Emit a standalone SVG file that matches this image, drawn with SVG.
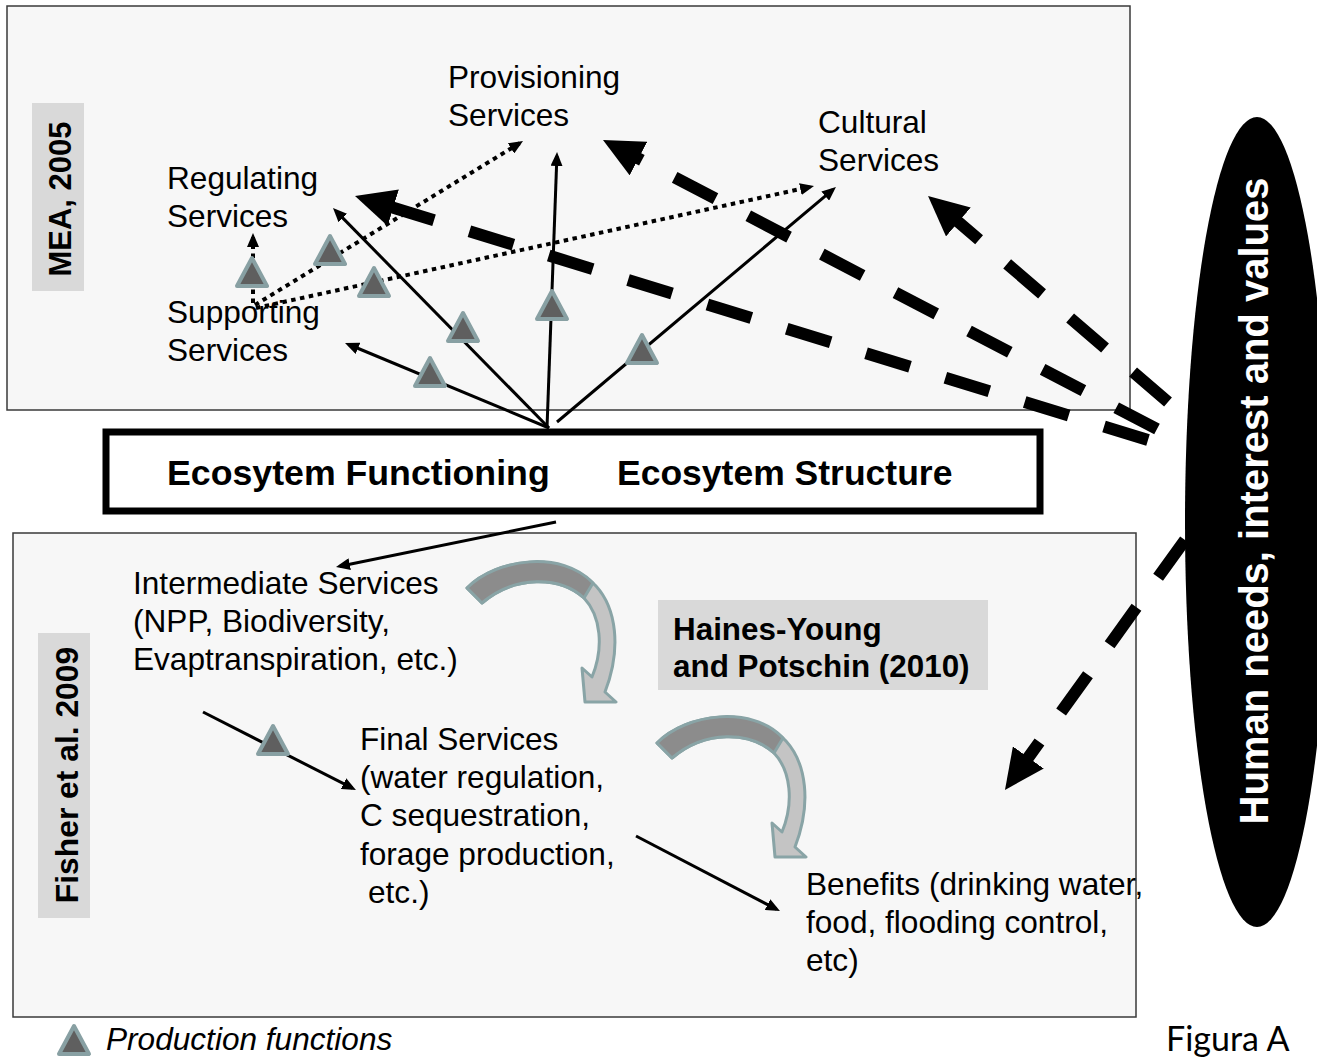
<svg xmlns="http://www.w3.org/2000/svg" xmlns:xlink="http://www.w3.org/1999/xlink" width="1317" height="1059" viewBox="0 0 1317 1059">
<style>
  .panel { fill: #f7f7f7; stroke: #3a3a3a; stroke-width: 1.5; }
  .label-box { fill: #d9d9d9; }
  .t { font-family: "Liberation Sans", Arial, sans-serif; font-size: 31.6px; fill: #000; }
  .b { font-family: "Liberation Sans", Arial, sans-serif; font-weight: bold; fill: #000; }
  .solid { fill: none; stroke: #000; stroke-width: 3; }
  .dot { fill: none; stroke: #000; stroke-width: 4; stroke-dasharray: 4.5 4.5; }
  .dash { fill: none; stroke: #000; stroke-width: 12; stroke-dasharray: 46 37; }
  .tri { fill: #5f5f5f; stroke: #88a0a3; stroke-width: 4; stroke-linejoin: round; }
  .curve-light { fill: #c4c4c4; stroke: #89a4a6; stroke-width: 3; stroke-linejoin: round; }
  .curve-dark { fill: #8c8c8c; stroke: #89a4a6; stroke-width: 3; stroke-linejoin: round; }
</style>
<defs>
  <marker id="ah" markerUnits="userSpaceOnUse" markerWidth="14" markerHeight="12" viewBox="0 0 14 12" refX="10" refY="6" orient="auto">
    <path d="M0,0 L14,6 L0,12 Z" fill="#000"/>
  </marker>
  <marker id="big" markerUnits="userSpaceOnUse" markerWidth="40" markerHeight="38" viewBox="0 0 40 38" refX="10" refY="19" orient="auto">
    <path d="M0,0 L40,19 L0,38 Z" fill="#000"/>
  </marker>
  <path id="tri" class="tri" d="M0,-14 L15,14 L-15,14 Z"/>
  <g id="curvedArrow">
    <path class="curve-light" d="M467,588 C497,558 562,550 596,586 C616,608 622,648 605,692 L616,702 L585,702 L582,668 L592,677 C604,648 601,616 584,598 C560,576 515,575 482,603 Z"/>
    <path class="curve-dark" d="M467,588 C497,558 562,550 593,583 L584,598 C560,576 515,575 482,603 Z"/>
  </g>
</defs>

<rect width="1317" height="1059" fill="#fff"/>

<!-- panels -->
<g id="mea-panel">
  <rect class="panel" x="7" y="6" width="1123" height="404"/>
  <rect class="label-box" x="32" y="103" width="52" height="188"/>
  <text class="b" font-size="31" transform="translate(71,199) rotate(-90)" text-anchor="middle">MEA, 2005</text>
</g>
<g id="fisher-panel">
  <rect class="panel" x="13" y="533" width="1123" height="484"/>
  <rect class="label-box" x="38" y="633" width="52" height="285"/>
  <text class="b" font-size="31.8" transform="translate(78,775) rotate(-90)" text-anchor="middle">Fisher et al. 2009</text>
</g>

<g id="haines-young">
  <rect class="label-box" x="658" y="600" width="330" height="90"/>
  <text class="b" font-size="31.4" x="673" y="640">Haines-Young</text>
  <text class="b" font-size="31.4" x="673" y="677">and Potschin (2010)</text>
</g>

<g id="ecosystem">
  <rect x="106" y="432" width="934" height="79" fill="#fff" stroke="#000" stroke-width="7"/>
  <text class="b" font-size="35.7" x="167" y="485">Ecosytem Functioning</text>
  <text class="b" font-size="35.5" x="617" y="485">Ecosytem Structure</text>
</g>

<!-- service nodes -->
<g id="provisioning"><text class="t" x="448" y="88">Provisioning</text><text class="t" x="448" y="126">Services</text></g>
<g id="cultural"><text class="t" x="818" y="133">Cultural</text><text class="t" x="818" y="171">Services</text></g>
<g id="regulating"><text class="t" x="167" y="189">Regulating</text><text class="t" x="167" y="227">Services</text></g>
<g id="supporting"><text class="t" x="167" y="323">Supporting</text><text class="t" x="167" y="361">Services</text></g>
<g id="intermediate">
  <text class="t" x="133" y="594">Intermediate Services</text>
  <text class="t" x="133" y="632">(NPP, Biodiversity,</text>
  <text class="t" x="133" y="670">Evaptranspiration, etc.)</text>
</g>
<g id="final">
  <text class="t" x="360" y="750">Final Services</text>
  <text class="t" x="360" y="788">(water regulation,</text>
  <text class="t" x="360" y="826">C sequestration,</text>
  <text class="t" x="360" y="865">forage production,</text>
  <text class="t" x="368" y="903">etc.)</text>
</g>
<g id="benefits">
  <text class="t" x="806" y="895">Benefits (drinking water,</text>
  <text class="t" x="806" y="933">food, flooding control,</text>
  <text class="t" x="806" y="971">etc)</text>
</g>

<!-- connectors -->
<g id="connectors">
  <!-- solid -->
  <line class="solid" x1="549" y1="428" x2="348.7" y2="344.5" marker-end="url(#ah)"/>
  <line class="solid" x1="549" y1="428" x2="335.8" y2="210.9" marker-end="url(#ah)"/>
  <line class="solid" x1="547" y1="428" x2="556.9" y2="156" marker-end="url(#ah)"/>
  <line class="solid" x1="557" y1="422" x2="832.9" y2="189.6" marker-end="url(#ah)"/>
  <line class="solid" x1="556" y1="522" x2="339.9" y2="566.2" marker-end="url(#ah)"/>
  <line class="solid" x1="203" y1="712" x2="352.4" y2="788.2" marker-end="url(#ah)"/>
  <line class="solid" x1="636" y1="836" x2="776.4" y2="909.2" marker-end="url(#ah)"/>
  <!-- dotted -->
  <line class="dot" x1="253" y1="303" x2="253" y2="237" marker-end="url(#ah)"/>
  <line class="dot" x1="255" y1="305" x2="519.6" y2="143.2" marker-end="url(#ah)"/>
  <line class="dot" x1="256" y1="308" x2="810.1" y2="186.9" marker-end="url(#ah)"/>
  <!-- bold dashed from human needs -->
  <line class="dash" x1="1148" y1="440" x2="383.7" y2="204.8" marker-end="url(#big)"/>
  <line class="dash" x1="1157" y1="429" x2="629.6" y2="153.9" marker-end="url(#big)"/>
  <line class="dash" x1="1168" y1="402" x2="950.8" y2="215.5" marker-end="url(#big)"/>
  <line class="dash" x1="1185" y1="540" x2="1022.5" y2="765.6" marker-end="url(#big)"/>
  <!-- curved block arrows -->
  <use xlink:href="#curvedArrow"/>
  <use xlink:href="#curvedArrow" transform="translate(190,155)"/>
</g>

<!-- production function markers -->
<g id="production-functions">
  <use xlink:href="#tri" transform="translate(252,272)"/>
  <use xlink:href="#tri" transform="translate(330,250)"/>
  <use xlink:href="#tri" transform="translate(374,282)"/>
  <use xlink:href="#tri" transform="translate(430,372)"/>
  <use xlink:href="#tri" transform="translate(463,327)"/>
  <use xlink:href="#tri" transform="translate(552,305)"/>
  <use xlink:href="#tri" transform="translate(642,349)"/>
  <use xlink:href="#tri" transform="translate(273,740)"/>
</g>

<g id="human-needs">
  <ellipse cx="1257" cy="522" rx="72" ry="405" fill="#000"/>
  <text class="b" font-size="40" style="fill:#fff" transform="translate(1268,501) rotate(-90)" text-anchor="middle">Human needs, interest and values</text>
</g>

<g id="legend">
  <use xlink:href="#tri" transform="translate(74,1040)"/>
  <text class="t" x="106" y="1050" font-style="italic">Production functions</text>
</g>

<g id="caption">
  <text x="1166" y="1051" font-family="Lato, 'Open Sans', sans-serif" font-size="34" fill="#000">Figura A</text>
</g>
</svg>
